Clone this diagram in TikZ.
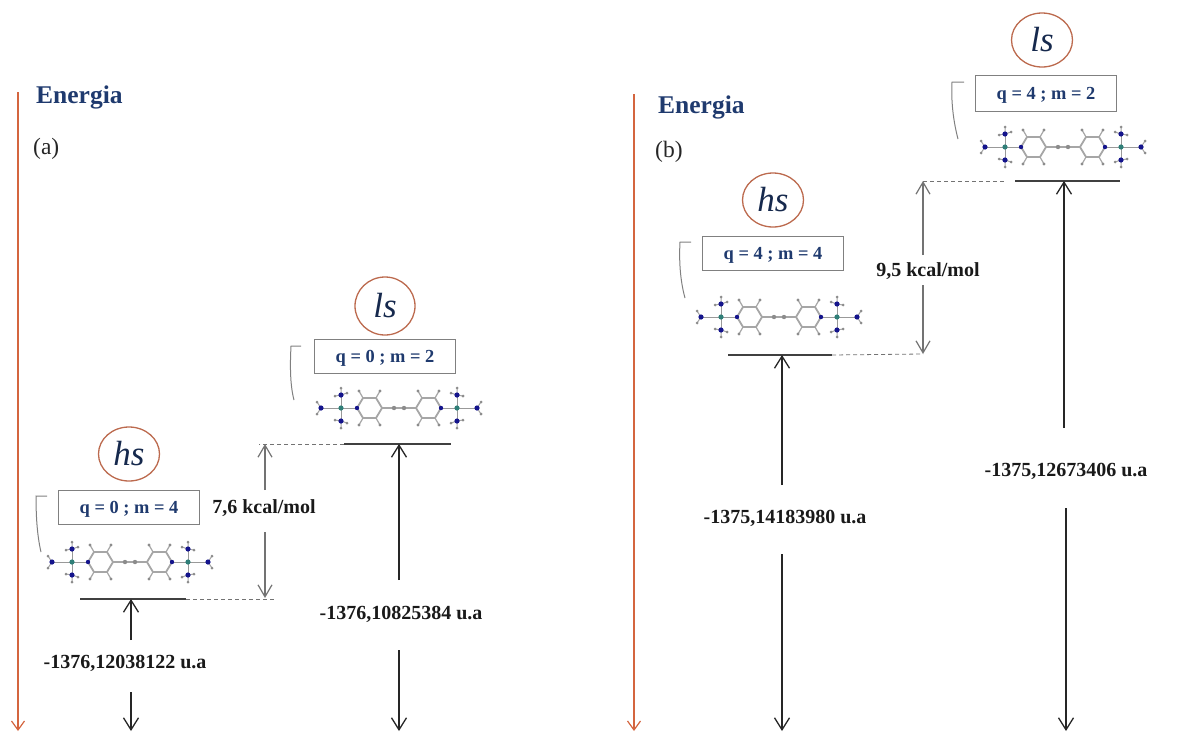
\documentclass[tikz,border=0pt]{standalone}
\usepackage{fontspec}
\setmainfont{Liberation Serif}
\usetikzlibrary{arrows.meta}
\usetikzlibrary{shapes.geometric}

\definecolor{navytext}{HTML}{1F3A6E}
\definecolor{axisred}{HTML}{D4653F}
\definecolor{ringred}{HTML}{BC6A4E}
\definecolor{nitrogen}{HTML}{14148C}
\definecolor{metal}{HTML}{2F7F78}

\begin{document}
\begin{tikzpicture}[
    x=1pt, y=-1pt,
    axis/.style={-{Straight Barb[length=9pt,width=13pt]}, axisred, line width=1.2pt},
    arrow/.style={-{Straight Barb[length=12pt,width=15pt]}, black!85, line width=1.3pt},
    gap/.style={-{Straight Barb[length=12pt,width=14pt]}, black!55, line width=1.2pt},
    level/.style={black!75, line width=1.1pt},
    guide/.style={dashed, dash pattern=on 4pt off 3pt, black!55, line width=0.8pt},
    bracket/.style={black!50, line width=1pt},
    spin/.style={ellipse, draw=ringred, line width=1.3pt, minimum width=61pt, minimum height=54pt, inner sep=0pt, font=\fontsize{35}{38}\selectfont\itshape, text=navytext!70!black},
    qmbox/.style={rectangle, draw=black!50, line width=1pt, minimum width=141pt, minimum height=34pt, inner sep=0pt, text height=12pt, text depth=0pt, font=\fontsize{18.4}{20}\selectfont\bfseries, text=navytext},
    title/.style={font=\fontsize{25.5}{28}\selectfont\bfseries, text=navytext, anchor=west, inner sep=0pt},
    part/.style={font=\fontsize{23.5}{28}\selectfont, text=black!85, anchor=west, inner sep=0pt},
    lbl/.style={font=\fontsize{20}{24}\selectfont\bfseries, text=black!90, inner sep=0pt},
    bond/.style={black!35, line width=1.8pt},
    pics/halfmol/.style={code={
        \draw[bond] (0,0) -- (17,0) -- (23,-10) -- (36,-10) -- (42,0) -- (36,10) -- (23,10) -- (17,0);
        \draw[bond, line width=1.2pt] (23,-10) -- (19,-17) (36,-10) -- (40,-17) (23,10) -- (19,17) (36,10) -- (40,17);
        \draw[black!40, line width=1pt] (42,0) -- (78,0) (58,-13) -- (58,13);
        \draw[bond, line width=1pt] (78,0) -- (82,-6) (78,0) -- (82,6) (58,-13) -- (52,-15) (58,-13) -- (64,-12) (58,-13) -- (58,-20) (58,13) -- (52,15) (58,13) -- (64,12) (58,13) -- (58,20);
        \fill[black!45] (5,0) circle (2.2pt) (19,-17) circle (1.6pt) (40,-17) circle (1.6pt) (19,17) circle (1.6pt) (40,17) circle (1.6pt) (82,-6) circle (1.5pt) (82,6) circle (1.5pt) (52,-15) circle (1.5pt) (64,-12) circle (1.5pt) (58,-20) circle (1.5pt) (52,15) circle (1.5pt) (64,12) circle (1.5pt) (58,20) circle (1.5pt);
        \fill[nitrogen] (42,0) circle (2.2pt) (78,0) circle (2.6pt) (58,-13) circle (2.6pt) (58,13) circle (2.6pt);
        \fill[metal] (58,0) circle (2.6pt);
    }},
    pics/molecule/.style={code={
        \pic {halfmol};
        \pic[xscale=-1] {halfmol};
    }}
]
\useasboundingbox (0,0) rectangle (1177,731);

% part a
\coordinate (axisAtop) at (18,92);
\coordinate (axisAend) at (18,731);
\draw[axis] (axisAtop) -- (axisAend);
\node[title] (energiaA) at (36,97) {Energia};
\node[part] (partA) at (33,149) {(a)};

\node[spin] (hsA) at (129,454) {hs};
\node[qmbox] (qmA) at (129,507) {q = 0 ; m = 4};
\pic at (130,562) {molecule};
\draw[bracket] (47,496) -- (36,496) .. controls (36,515) and (37,535) .. (41,552);

\coordinate (lvlAl) at (80,599);
\coordinate (lvlAr) at (186,599);
\coordinate (midA) at (131,599);
\coordinate (guideAend) at (275,599);
\draw[level] (lvlAl) -- (lvlAr);
\draw[guide] (lvlAr) -- (guideAend);

\node[lbl] (enHsA) at (125,663) {-1376,12038122 u.a};
\coordinate (upA) at (131,640);
\coordinate (downA) at (131,692);
\coordinate (endA) at (131,731);
\draw[arrow] (upA) -- (midA);
\draw[arrow] (downA) -- (endA);

\node[spin, minimum width=60pt, minimum height=58pt] (lsA) at (385,306) {ls};
\node[qmbox] (qmB) at (385,356) {q = 0 ; m = 2};
\pic at (399,408) {molecule};
\draw[bracket] (301,346) -- (291,346) .. controls (290,365) and (290,385) .. (294,400);

\coordinate (lvlBl) at (344,444);
\coordinate (lvlBr) at (451,444);
\coordinate (midB) at (399,444);
\coordinate (guideBend) at (259,444);
\draw[level] (lvlBl) -- (lvlBr);
\draw[guide] (lvlBl) -- (guideBend);

\node[lbl] (enLsA) at (401,614) {-1376,10825384 u.a};
\coordinate (upB) at (399,580);
\coordinate (downB) at (399,650);
\coordinate (endB) at (399,731);
\draw[arrow] (upB) -- (midB);
\draw[arrow] (downB) -- (endB);

\node[lbl] (gapA) at (264,508) {7,6 kcal/mol};
\coordinate (gapAtop) at (265,444);
\coordinate (gapAbot) at (265,598);
\coordinate (gapAu) at (265,490);
\coordinate (gapAd) at (265,532);
\draw[gap] (gapAu) -- (gapAtop);
\draw[gap] (gapAd) -- (gapAbot);

% part b
\coordinate (axisBtop) at (634,94);
\coordinate (axisBend) at (634,731);
\draw[axis] (axisBtop) -- (axisBend);
\node[title] (energiaB) at (658,107) {Energia};
\node[part] (partB) at (655,152) {(b)};

\node[spin] (hsB) at (773,200) {hs};
\node[qmbox] (qmC) at (773,253) {q = 4 ; m = 4};
\pic at (779,317) {molecule};
\draw[bracket] (691,242) -- (680,242) .. controls (679,260) and (680,280) .. (685,298);

\coordinate (lvlCl) at (728,355);
\coordinate (lvlCr) at (832,355);
\coordinate (midC) at (782,355);
\coordinate (guideCend) at (923,354);
\draw[level] (lvlCl) -- (lvlCr);
\draw[guide] (lvlCr) -- (guideCend);

\node[lbl] (enHsB) at (785,518) {-1375,14183980 u.a};
\coordinate (upC) at (782,485);
\coordinate (downC) at (782,554);
\coordinate (endC) at (782,731);
\draw[arrow] (upC) -- (midC);
\draw[arrow] (downC) -- (endC);

\node[spin] (lsB) at (1042,40) {ls};
\node[qmbox, minimum height=36pt] (qmD) at (1046,93) {q = 4 ; m = 2};
\pic at (1063,147) {molecule};
\draw[bracket] (964,82) -- (952,82) .. controls (951,100) and (953,120) .. (958,139);

\coordinate (lvlDl) at (1015,181);
\coordinate (lvlDr) at (1120,181);
\coordinate (midD) at (1064,181);
\coordinate (guideDend) at (1005,181);
\coordinate (gapBtop) at (923,181);
\draw[level] (lvlDl) -- (lvlDr);
\draw[guide] (gapBtop) -- (guideDend);

\node[lbl] (enLsB) at (1066,471) {-1375,12673406 u.a};
\coordinate (upD) at (1064,428);
\coordinate (downD) at (1066,508);
\coordinate (endD) at (1066,731);
\draw[arrow] (upD) -- (midD);
\draw[arrow] (downD) -- (endD);

\node[lbl] (gapB) at (928,271) {9,5 kcal/mol};
\coordinate (gapBbot) at (923,354);
\coordinate (gapBu) at (923,255);
\coordinate (gapBd) at (923,285);
\draw[gap] (gapBu) -- (gapBtop);
\draw[gap] (gapBd) -- (gapBbot);
\end{tikzpicture}
\end{document}
